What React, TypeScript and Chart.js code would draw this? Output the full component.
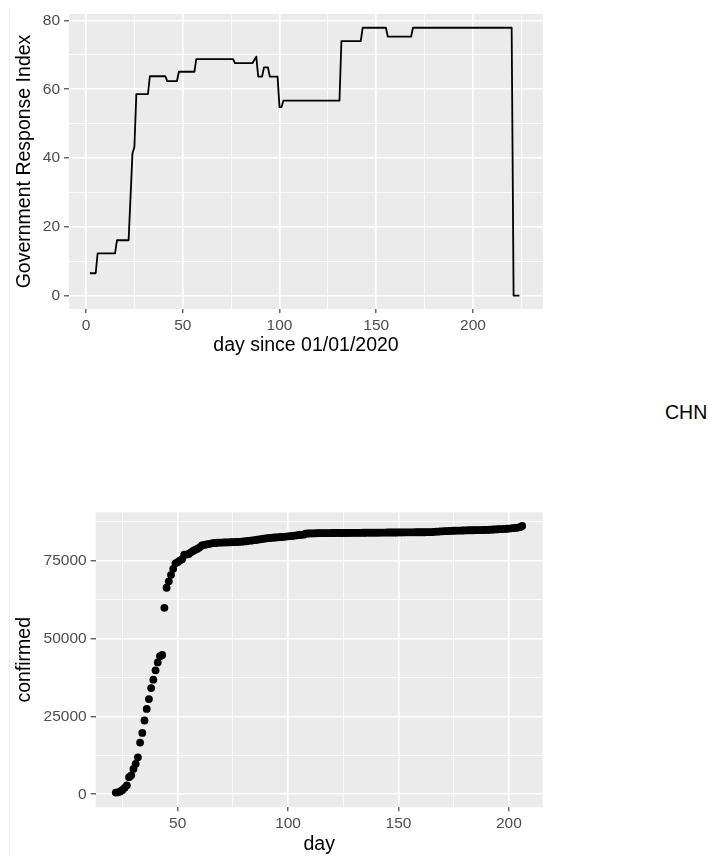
import React, { useEffect, useRef } from "react";
import { Chart, registerables } from "chart.js";

Chart.register(...registerables);

const FONT = '"Liberation Sans", Arial, Helvetica, sans-serif';

// ---------- Top chart: Government Response Index (corner points of the step line) ----------
const govDays = [
  2, 5, 6, 15, 16, 22, 24, 25, 26, 32,
  33, 41, 42, 47, 48, 56, 57, 76, 77, 86,
  88, 89, 91, 92, 94, 95, 99, 100, 101, 102,
  131, 132, 142, 143, 155, 156, 168, 169, 220, 221,
  224,
];
const govIndex = [
  6.5, 6.5, 12.3, 12.3, 16.1, 16.1, 41.3, 43.2, 58.6, 58.6,
  63.8, 63.8, 62.4, 62.4, 65.1, 65.1, 68.8, 68.8, 67.6, 67.6,
  69.5, 63.7, 63.7, 66.4, 66.4, 63.7, 63.7, 54.8, 54.8, 56.7,
  56.7, 74.0, 74.0, 77.9, 77.9, 75.3, 75.3, 77.9, 77.9, 0,
  0,
];
const govXMajor = [0, 50, 100, 150, 200];
const govXMinor = [25, 75, 125, 175, 225];
const govYMajor = [0, 20, 40, 60, 80];
const govYMinor = [10, 30, 50, 70];

// ---------- Bottom chart: confirmed cases per day ----------
const confFirstDay = 22;
const confirmed = [
  548, 643, 920, 1406, 2075, 2877, 5509, 6087, 8141, 9802,
  11891, 16630, 19716, 23707, 27440, 30587, 34110, 36814, 39829, 42354,
  44386, 44759, 59895, 66358, 68413, 70513, 72434, 74211, 74619, 75077,
  75550, 77001, 77022, 77241, 77754, 78166, 78600, 78928, 79356, 79932,
  80136, 80261, 80386, 80537, 80690, 80770, 80823, 80860, 80887, 80921,
  80932, 80945, 80977, 81003, 81033, 81058, 81102, 81156, 81250, 81305,
  81435, 81498, 81591, 81661, 81782, 81897, 81999, 82122, 82198, 82279,
  82361, 82432, 82511, 82543, 82602, 82665, 82718, 82809, 82883, 82941,
  83014, 83134, 83213, 83306, 83356, 83403, 83760, 83787, 83805, 83817,
  83853, 83868, 83884, 83899, 83909, 83912, 83918, 83940, 83944, 83956,
  83959, 83959, 83964, 83966, 83970, 83968, 83970, 83990, 83990, 84010,
  84011, 84018, 84024, 84029, 84038, 84044, 84054, 84063, 84063, 84065,
  84081, 84084, 84095, 84102, 84103, 84106, 84106, 84109, 84123, 84128,
  84146, 84154, 84159, 84160, 84171, 84177, 84186, 84191, 84195, 84198,
  84198, 84210, 84216, 84228, 84335, 84378, 84422, 84458, 84494, 84553,
  84572, 84624, 84653, 84673, 84701, 84725, 84743, 84757, 84785, 84816,
  84830, 84830, 84838, 84857, 84871, 84877, 84917, 84917, 84950, 84992,
  85030, 85071, 85114, 85148, 85217, 85226, 85265, 85314, 85367, 85437,
  85522, 85568, 85707, 85810, 86200,
];
const confXMajor = [50, 100, 150, 200];
const confXMinor = [25, 75, 125, 175];
const confYMajor = [0, 25000, 50000, 75000];
const confYMinor = [12500, 37500, 62500, 87500];

const panelBg = {
  id: "panelBg",
  beforeDraw(chart: any) {
    const { ctx, chartArea: a } = chart;
    ctx.save();
    ctx.fillStyle = "#EBEBEB";
    ctx.fillRect(a.left, a.top, a.right - a.left, a.bottom - a.top);
    ctx.restore();
  },
};

function makeAxis(o: {
  horizontal: boolean;
  min: number;
  max: number;
  major: number[];
  minor: number[];
  title: string;
  size: number;
  titlePad: number;
  tickLen: number;
  labelPad: number;
}) {
  const majorSet = new Set(o.major);
  const all = [...o.major, ...o.minor].sort((a, b) => a - b);
  return {
    type: "linear",
    min: o.min,
    max: o.max,
    afterBuildTicks: (s: any) => {
      s.ticks = all.map((v) => ({ value: v }));
    },
    afterFit: (s: any) => {
      if (o.horizontal) s.height = o.size;
      else s.width = o.size;
    },
    grid: {
      color: "#FFFFFF",
      lineWidth: (c: any) => (c.tick && majorSet.has(c.tick.value) ? 1.6 : 0.8),
      tickColor: (c: any) => (c.tick && majorSet.has(c.tick.value) ? "#333333" : "rgba(0,0,0,0)"),
      tickLength: o.tickLen,
      tickWidth: 1.1,
      drawTicks: true,
    },
    border: { display: false },
    ticks: {
      autoSkip: false,
      maxRotation: 0,
      minRotation: 0,
      padding: o.labelPad,
      color: "#4D4D4D",
      font: { family: FONT, size: 15.5 },
      callback: (v: any) => (majorSet.has(Number(v)) ? String(v) : ""),
    },
    title: {
      display: true,
      text: o.title,
      color: "#000000",
      font: { family: FONT, size: 19.5 },
      padding: { top: o.titlePad, bottom: o.titlePad },
    },
  };
}

function ChartCanvas(props: { config: any; left: number; top: number; width: number; height: number }) {
  const ref = useRef<HTMLCanvasElement>(null);
  useEffect(() => {
    const chart = new Chart(ref.current as HTMLCanvasElement, props.config);
    return () => chart.destroy();
  }, []);
  return (
    <canvas
      ref={ref}
      width={props.width}
      height={props.height}
      style={{ position: "absolute", left: props.left, top: props.top, width: props.width, height: props.height }}
    />
  );
}

const topConfig = {
  type: "line",
  data: {
    datasets: [
      {
        data: govDays.map((d, i) => ({ x: d, y: govIndex[i] })),
        borderColor: "#000000",
        borderWidth: 1.8,
        pointRadius: 0,
        tension: 0,
        fill: false,
        borderJoinStyle: "round",
      },
    ],
  },
  options: {
    animation: false,
    responsive: false,
    devicePixelRatio: 1,
    layout: { padding: { left: 0, top: 14, right: 17, bottom: 0 } },
    plugins: { legend: { display: false }, tooltip: { enabled: false } },
    scales: {
      x: makeAxis({
        horizontal: true, min: -8.8, max: 236.2, major: govXMajor, minor: govXMinor,
        title: "day since 01/01/2020", size: 51, titlePad: 2.5, tickLen: 4, labelPad: 3,
      }),
      y: makeAxis({
        horizontal: false, min: -3.9, max: 81.9, major: govYMajor, minor: govYMinor,
        title: "Government Response Index", size: 69, titlePad: 13.3, tickLen: 5, labelPad: 4,
      }),
    },
  },
  plugins: [panelBg],
};

const bottomConfig = {
  type: "scatter",
  data: {
    datasets: [
      {
        data: confirmed.map((v, i) => ({ x: confFirstDay + i, y: v })),
        backgroundColor: "#000000",
        borderWidth: 0,
        pointRadius: 3.9,
      },
    ],
  },
  options: {
    animation: false,
    responsive: false,
    devicePixelRatio: 1,
    layout: { padding: { left: 0, top: 32.3, right: 17.3, bottom: 0 } },
    plugins: { legend: { display: false }, tooltip: { enabled: false } },
    scales: {
      x: makeAxis({
        horizontal: true, min: 12.9, max: 215.3, major: confXMajor, minor: confXMinor,
        title: "day", size: 49.7, titlePad: 0.3, tickLen: 4, labelPad: 3,
      }),
      y: makeAxis({
        horizontal: false, min: -4180, max: 90600, major: confYMajor, minor: confYMinor,
        title: "confirmed", size: 95.7, titlePad: 13.3, tickLen: 5, labelPad: 4,
      }),
    },
  },
  plugins: [panelBg],
};

export default function App() {
  return (
    <div
      style={{
        position: "absolute",
        left: 0,
        top: 0,
        width: 710,
        height: 857,
        overflow: "hidden",
        background: "#FFFFFF",
        fontFamily: FONT,
      }}
    >
      <div style={{ position: "absolute", left: 9, top: 9, width: 1, height: 847, background: "#ECECEC" }} />
      <ChartCanvas config={topConfig} left={0} top={0} width={560} height={360} />
      <ChartCanvas config={bottomConfig} left={0} top={480} width={560} height={377} />
      <div
        style={{
          position: "absolute",
          left: 665,
          top: 402,
          fontSize: 19.5,
          lineHeight: "20px",
          color: "#000000",
          whiteSpace: "nowrap",
        }}
      >
        CHN
      </div>
    </div>
  );
}
